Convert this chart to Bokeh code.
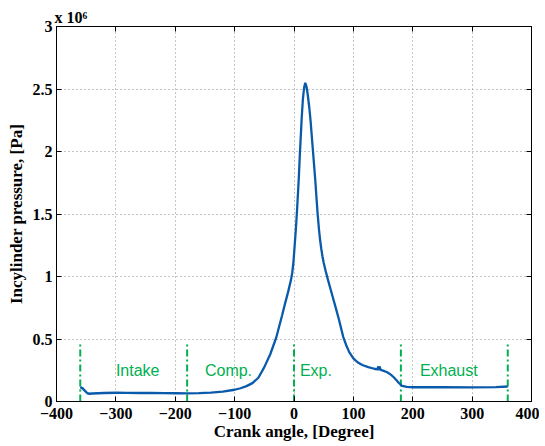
from bokeh.plotting import figure
from bokeh.models import Title, FixedTicker, CustomJSTickFormatter, LinearAxis, Range1d, ColumnDataSource
from bokeh.core.properties import value
from bokeh.embed import file_html
from bokeh.resources import INLINE

# ---- data ----
crank_angle = [-360, -356, -352, -348, -344, -340, -320, -300, -280, -260, -240, -220, -200, -180,
               -160, -140, -120, -100, -90, -80, -70, -60, -50, -40, -30, -20, -15, -10, -5, -3,
               -1, 1, 3, 5, 8, 10, 13, 15, 17, 19, 21, 23, 26, 28, 32, 36, 38, 40, 42, 44, 46, 48,
               50, 53, 56, 60, 65, 70, 76, 83, 88, 93, 100, 107, 115, 125, 135, 140, 142, 143,
               144, 146, 150, 157, 163, 168, 173, 177, 182, 190, 200, 250, 300, 340, 360]
pressure_1e6 = [0.115, 0.105, 0.085, 0.066, 0.062, 0.064, 0.068, 0.070, 0.069, 0.068, 0.068, 0.067,
                0.066, 0.065, 0.067, 0.071, 0.079, 0.094, 0.106, 0.123, 0.147, 0.19, 0.275, 0.378,
                0.51, 0.69, 0.785, 0.875, 0.975, 1.03, 1.11, 1.24, 1.37, 1.52, 1.78, 1.99, 2.27,
                2.42, 2.51, 2.55, 2.52, 2.46, 2.34, 2.24, 2.0, 1.76, 1.62, 1.49, 1.38, 1.29, 1.22,
                1.16, 1.11, 1.05, 0.995, 0.925, 0.84, 0.755, 0.65, 0.515, 0.45, 0.395, 0.345, 0.314,
                0.292, 0.275, 0.262, 0.257, 0.28, 0.25, 0.28, 0.253, 0.247, 0.234, 0.215, 0.194,
                0.168, 0.146, 0.125, 0.117, 0.114, 0.115, 0.113, 0.115, 0.12]

phase_bounds = [-360, -180, 0, 180, 360]
phase_line_top = 0.48
phase_labels = ["Intake", "Comp.", "Exp.", "Exhaust"]
phase_label_x = [-300, -150, 10, 212]
phase_label_y = [0.245, 0.245, 0.245, 0.245]

x_ticks = [-400, -300, -200, -100, 0, 100, 200, 300, 400]
y_ticks = [0, 0.5, 1, 1.5, 2, 2.5, 3]
exponent_text = "x 10\u2076"

BLUE = "#0a5aab"
GREEN = "#00b050"
SERIF = "Liberation Serif"

p = figure(frame_width=475, frame_height=375,
           x_range=Range1d(-400, 400), y_range=Range1d(0, 3),
           output_backend="svg", toolbar_location=None,
           min_border_left=56, min_border_right=8, min_border_top=26, min_border_bottom=44)
p.background_fill_color = "white"
p.border_fill_color = "white"
p.outline_line_color = "black"
p.outline_line_width = 1

fmt = CustomJSTickFormatter(code="return tick < 0 ? '\\u2212' + String(-tick) : String(tick);")
xt = FixedTicker(ticks=x_ticks)
yt = FixedTicker(ticks=y_ticks)
p.xaxis.ticker = xt
p.yaxis.ticker = yt
p.xaxis.formatter = fmt
p.yaxis.formatter = fmt

for ax in p.xaxis + p.yaxis:
    ax.major_tick_in = 5
    ax.major_tick_out = 0
    ax.minor_tick_line_color = None
    ax.axis_line_color = "black"
    ax.major_tick_line_color = "black"
    ax.major_label_text_font = SERIF
    ax.major_label_text_font_style = "bold"
    ax.major_label_text_font_size = "16px"
    ax.major_label_text_color = "black"
    ax.axis_label_text_font = SERIF
    ax.axis_label_text_font_style = "bold"
    ax.axis_label_text_font_size = "17px"
    ax.axis_label_text_color = "black"

p.xaxis.axis_label = "Crank angle, [Degree]"
p.yaxis.axis_label = "Incylinder pressure, [Pa]"
p.xaxis.major_label_standoff = 6
p.xaxis.axis_label_standoff = 0
p.yaxis.major_label_standoff = 4
p.yaxis.axis_label_standoff = 4

empty = CustomJSTickFormatter(code="return '';")
top_ax = LinearAxis(ticker=FixedTicker(ticks=x_ticks), formatter=empty, major_tick_in=5,
                    major_tick_out=0, major_label_standoff=0, minor_tick_line_color=None,
                    major_label_text_font_size="1px")
right_ax = LinearAxis(ticker=FixedTicker(ticks=y_ticks), formatter=empty, major_tick_in=5,
                      major_tick_out=0, major_label_standoff=0, minor_tick_line_color=None,
                      major_label_text_font_size="1px")
p.add_layout(top_ax, "above")
p.add_layout(right_ax, "right")

# exponent as a title above the frame, left aligned
p.add_layout(Title(text=exponent_text, align="left", text_font=SERIF, text_font_style="bold",
                   text_font_size="16px", text_color="black", standoff=1, offset=-2), "above")

p.xgrid.ticker = xt
p.ygrid.ticker = yt
p.grid.grid_line_color = "#8c8c8c"
p.grid.grid_line_dash = "1 3"
p.grid.grid_line_width = 1

# phase boundary lines
p.segment(x0=phase_bounds, x1=phase_bounds, y0=[0] * len(phase_bounds),
          y1=[phase_line_top] * len(phase_bounds),
          line_color=GREEN, line_width=2, line_dash="7 3 2 3")

# pressure curve
src = ColumnDataSource(data=dict(angle=crank_angle, pressure=pressure_1e6))
p.line("angle", "pressure", source=src, line_color=BLUE, line_width=2.3)

# phase labels
p.text(x=phase_label_x, y=phase_label_y, text=phase_labels,
       text_font=value("Liberation Sans"), text_font_size="16px",
       text_color=GREEN, text_align="left", text_baseline="middle")

open("out.html", "w").write(file_html(p, INLINE))
